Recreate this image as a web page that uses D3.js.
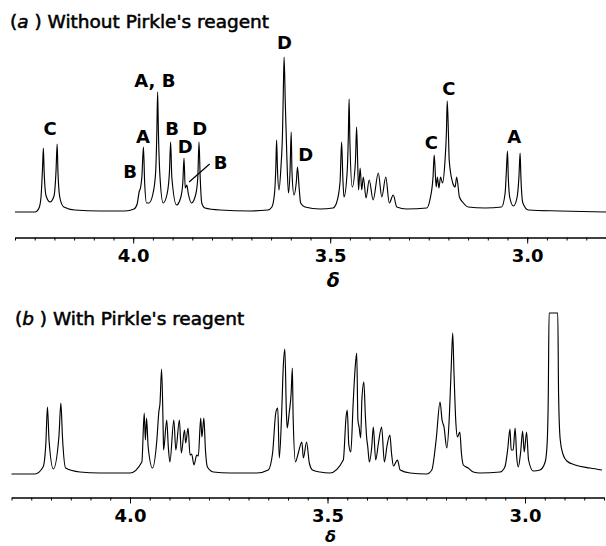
<!DOCTYPE html>
<html>
<head>
	<meta charset="utf-8">
	<script src="https://cdn.jsdelivr.net/npm/d3@7"></script>
	<style>
		body { margin: 0; background: #fff; }
		text { font-family: "DejaVu Sans", sans-serif; fill: #000; }
		.trace { fill: none; stroke: #000; stroke-width: 1.15; stroke-linejoin: round; }
		.axis path, .axis line { stroke: #000; }
		.axis path { stroke-width: 1.4; }
		.title { stroke: #000; stroke-width: 0.55; }
	</style>
</head>
<body>
	<svg id="spectra" width="606" height="546"></svg>

	<script type="text/javascript">
		// chemical shift (ppm) and intensity, panel (a)
		var shiftA = [4.300, 4.249, 4.239, 4.234, 4.230, 4.228, 4.226, 4.221, 4.211, 4.201, 4.196, 4.193, 4.191, 4.186, 4.176, 4.148, 4.084, 4.021,
			3.998, 3.990, 3.985, 3.981, 3.978, 3.974, 3.971, 3.966, 3.960, 3.950, 3.943, 3.940, 3.938, 3.936, 3.932, 3.924, 3.914, 3.908, 3.905, 3.902,
			3.890, 3.879, 3.874, 3.871, 3.868, 3.864, 3.860, 3.852, 3.841, 3.836, 3.833, 3.830, 3.826, 3.818, 3.780, 3.704, 3.658,
			3.648, 3.641, 3.638, 3.636, 3.634, 3.630, 3.625, 3.621, 3.619, 3.617, 3.614, 3.610, 3.606, 3.602, 3.599, 3.597, 3.592, 3.586, 3.583, 3.579, 3.575, 3.564, 3.526,
			3.493, 3.484, 3.475, 3.471, 3.468, 3.465, 3.457, 3.454, 3.452, 3.450, 3.444, 3.436, 3.433, 3.430, 3.428, 3.424, 3.420, 3.416, 3.409, 3.401, 3.391, 3.378, 3.369, 3.359, 3.350, 3.340, 3.331, 3.306, 3.255,
			3.247, 3.239, 3.236, 3.231, 3.228, 3.224, 3.220, 3.215, 3.209, 3.205, 3.203, 3.200, 3.198, 3.189, 3.183, 3.179, 3.172, 3.162, 3.150, 3.107,
			3.065, 3.056, 3.053, 3.050, 3.048, 3.044, 3.035, 3.026, 3.021, 3.018, 3.016, 3.011, 2.997, 2.917, 2.800];
		var intensityA = [0, 0, 4, 15, 45, 64, 40, 16, 10, 16, 40, 68, 40, 14, 5, 2, 1, 1,
			3, 8, 20, 25, 35, 65, 30, 9, 9, 18, 40, 80, 120, 80, 35, 9, 18, 40, 70, 35,
			7, 15, 30, 54, 24, 27, 18, 9, 18, 35, 70, 35, 9, 4, 2, 1, 2,
			5, 20, 45, 72, 45, 22, 45, 80, 120, 155, 110, 55, 19, 40, 80, 40, 17, 30, 45, 25, 9, 5, 3,
			4, 9, 30, 70, 35, 15, 40, 75, 113, 70, 25, 50, 85, 45, 22, 44, 22, 35, 14, 32, 12, 39, 15, 35, 9, 17, 5, 3, 4,
			12, 35, 57, 25, 35, 24, 35, 29, 49, 80, 111, 80, 52, 29, 25, 35, 15, 9, 5, 4,
			5, 19, 40, 61, 35, 14, 6, 14, 35, 59, 35, 9, 2, 1, 0];

		// panel (b), with Pirkle's reagent
		var shiftB = [4.300, 4.241, 4.220, 4.213, 4.209, 4.205, 4.194, 4.180, 4.175, 4.171, 4.163, 4.127, 4.076, 4.000,
			3.970, 3.964, 3.961, 3.958, 3.954, 3.943, 3.932, 3.927, 3.924, 3.920, 3.916, 3.915, 3.907, 3.903, 3.899, 3.889, 3.884, 3.875, 3.870,
			3.862, 3.859, 3.853, 3.848, 3.844, 3.838, 3.831, 3.827, 3.821, 3.818, 3.813, 3.809, 3.804, 3.789, 3.747, 3.679,
			3.650, 3.639, 3.631, 3.626, 3.622, 3.616, 3.612, 3.608, 3.604, 3.602, 3.597, 3.592, 3.589, 3.587, 3.581, 3.574, 3.565, 3.561, 3.553, 3.546, 3.538, 3.519, 3.494,
			3.460, 3.453, 3.450, 3.446, 3.441, 3.435, 3.430, 3.426, 3.423, 3.420, 3.416, 3.413, 3.408, 3.404, 3.401, 3.398, 3.394, 3.388, 3.384, 3.378,
			3.371, 3.363, 3.356, 3.349, 3.342, 3.338, 3.333, 3.323, 3.316, 3.291, 3.249,
			3.236, 3.225, 3.215, 3.210, 3.205, 3.198, 3.192, 3.187, 3.183, 3.180, 3.175, 3.171, 3.165, 3.161, 3.156, 3.144, 3.131, 3.114, 3.063,
			3.051, 3.044, 3.038, 3.035, 3.030, 3.025, 3.021, 3.017, 3.011, 3.006, 3.002, 2.996, 2.991, 2.979,
			2.962, 2.949, 2.944, 2.941, 2.939, 2.917, 2.915, 2.911, 2.904, 2.894, 2.873, 2.835, 2.805];
		var intensityB = [0, 0, 7, 31, 67, 34, 5, 37, 71, 37, 6, 2, 1, 1,
			12, 61, 34, 56, 27, 6, 34, 62, 71, 105, 44, 24, 54, 27, 12, 54, 24, 54, 21,
			44, 31, 46, 19, 20, 9, 19, 18, 56, 37, 56, 24, 7, 2, 1, 1,
			4, 21, 61, 66, 16, 61, 107, 125, 61, 46, 61, 81, 106, 57, 12, 21, 32, 16, 32, 11, 4, 2, 1,
			14, 57, 64, 29, 22, 71, 106, 121, 54, 47, 36, 74, 92, 57, 37, 27, 12, 27, 47, 14,
			31, 47, 12, 29, 39, 21, 8, 14, 4, 1, 0,
			4, 34, 72, 54, 47, 26, 54, 104, 141, 104, 51, 37, 42, 21, 9, 6, 2, 1, 2,
			7, 24, 45, 24, 24, 46, 17, 7, 22, 43, 22, 42, 14, 3,
			4, 12, 30, 80, 161, 161, 80, 35, 20, 13, 9, 6, 4];

		var majorTicks = [4.0, 3.5, 3.0];
		var tickLabels = ["4.0", "3.5", "3.0"];

		// peak assignments in panel (a): text, shift, height of the label baseline
		var labelTextA = ["C", "B", "A", "A, B", "B", "D", "D", "B", "D", "D", "C", "C", "A"];
		var labelShiftA = [4.211, 4.008, 3.975, 3.945, 3.901, 3.868, 3.831, 3.778, 3.616, 3.562, 3.243, 3.199, 3.033];
		var labelLevelA = [77, 34, 69, 125, 77, 59, 77, 43, 163, 51, 63, 117, 69];
		var leaderShiftA = [3.858, 3.806];
		var leaderLevelA = [30, 48];

		var svg = d3.select("#spectra");

		function drawPanel(opt) {
			var x = d3.scaleLinear().domain([4.3, 2.8]).range(opt.xRange);
			var y = d3.scaleLinear().domain([0, 160]).range([opt.base, opt.base - 160]);
			var g = svg.append("g");

			var pts = opt.shift.map(function(d, i) { return [d, opt.intensity[i]]; });
			var line = d3.line()
				.x(function(d) { return x(d[0]); })
				.y(function(d) { return y(d[1]); })
				.curve(d3.curveMonotoneX);
			g.append("path")
				.attr("class", "trace")
				.attr("d", line(pts.slice().reverse()));

			// minor ticks every 0.05 ppm, then the labelled ones
			var minor = d3.axisBottom(x).ticks(30).tickSize(3).tickSizeOuter(0).tickFormat("");
			g.append("g")
				.attr("class", "axis")
				.attr("transform", "translate(0," + opt.axisY + ")")
				.call(minor);
			var major = d3.axisBottom(x)
				.tickValues(majorTicks)
				.tickSize(6)
				.tickSizeOuter(0)
				.tickPadding(6)
				.tickFormat(function(d, i) { return tickLabels[i]; });
			var ax = g.append("g")
				.attr("class", "axis")
				.attr("transform", "translate(0," + opt.axisY + ")")
				.call(major);
			ax.select(".domain").remove();
			ax.selectAll("text")
				.attr("font-family", "DejaVu Sans")
				.attr("font-size", 18)
				.attr("font-weight", "bold");

			g.append("text")
				.attr("x", x(3.5) + 3)
				.attr("y", opt.deltaY)
				.attr("text-anchor", "middle")
				.attr("font-size", opt.deltaSize)
				.attr("font-weight", "bold")
				.attr("font-style", "italic")
				.text("\u03b4");

			var title = g.append("text")
				.attr("class", "title")
				.attr("x", opt.titleX)
				.attr("y", opt.titleY)
				.attr("font-size", 18.5);
			title.append("tspan").text("(");
			title.append("tspan").attr("font-style", "italic").text(opt.letter);
			title.append("tspan").text(" ) " + opt.title);

			return {x: x, y: y, g: g};
		}

		var a = drawPanel({
			shift: shiftA, intensity: intensityA,
			xRange: [15, 606], base: 212, axisY: 237.5, deltaY: 287, deltaSize: 19,
			titleX: 10, titleY: 28, letter: "a", title: "Without Pirkle's reagent"
		});
		var b = drawPanel({
			shift: shiftB, intensity: intensityB,
			xRange: [11.5, 604], base: 474, axisY: 497.5, deltaY: 542.3, deltaSize: 16,
			titleX: 15, titleY: 325, letter: "b", title: "With Pirkle's reagent"
		});

		a.g.selectAll("text.peak")
			.data(labelTextA)
			.enter()
			.append("text")
			.attr("class", "peak")
			.attr("x", function(d, i) { return a.x(labelShiftA[i]); })
			.attr("y", function(d, i) { return a.y(labelLevelA[i]); })
			.attr("text-anchor", "middle")
			.attr("font-size", 18)
			.attr("font-weight", "bold")
			.text(function(d) { return d; });

		a.g.append("line")
			.attr("x1", a.x(leaderShiftA[0]))
			.attr("y1", a.y(leaderLevelA[0]))
			.attr("x2", a.x(leaderShiftA[1]))
			.attr("y2", a.y(leaderLevelA[1]))
			.attr("stroke", "#000")
			.attr("stroke-width", 1.2);
	</script>
</body>
</html>
